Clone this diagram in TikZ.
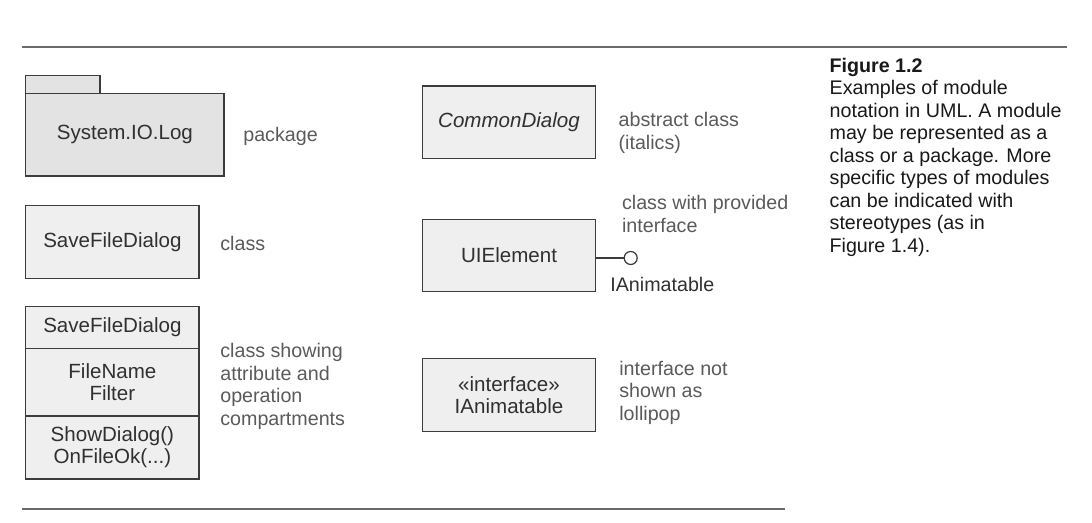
\documentclass[tikz,border=0pt]{standalone}
\usepackage{fontspec}
\setmainfont{Liberation Sans}
\usetikzlibrary{positioning}
\definecolor{boxfill}{HTML}{EFEFEF}
\definecolor{pkgfill}{HTML}{E3E3E3}
\definecolor{boxline}{HTML}{3C3C3C}
\definecolor{boxtext}{HTML}{303030}
\definecolor{notegray}{HTML}{5A5A5A}
\definecolor{rulegray}{HTML}{6A6A6A}

\begin{document}
\begin{tikzpicture}[x=0.02cm,y=-0.02cm,
	umlbox/.style={draw=boxline,fill=boxfill,line width=0.7pt,minimum width=3.466cm,minimum height=1.45cm,inner sep=0pt,outer sep=0pt,text=boxtext,align=center,font=\fontsize{11.7}{12.5}\selectfont},
	note/.style={anchor=west,align=left,inner sep=0pt,text=notegray,font=\fontsize{11.2}{12.8}\selectfont},
	rulerline/.style={draw=rulegray,line width=1.1pt}]
	\useasboundingbox (0,0) rectangle (1092,523);
	\coordinate (T1) at (22,46.7);
	\coordinate (T2) at (1067,46.7);
	\coordinate (B1) at (22,509);
	\coordinate (B2) at (785,509);
	\draw[rulerline] (T1)--(T2);
	\draw[rulerline] (B1)--(B2);
		% left column
		\node[umlbox,fill=pkgfill,minimum width=3.966cm,minimum height=1.654cm] (pkg) at (124.9,134.7) {System.IO.Log};
		\node[umlbox,fill=pkgfill,minimum width=1.486cm,minimum height=0.352cm,anchor=south west] (tab) at (pkg.north west) {};
		\node[note] (pkgnote) at (243,136) {package};
		\node[umlbox] (cls) at (112.4,242) {SaveFileDialog};
		\node[note] (clsnote) at (220,243) {class};
		\node[umlbox,minimum height=0.832cm] (name) at (112.4,327.5) {SaveFileDialog};
		\node[umlbox,minimum height=1.354cm,below=0pt of name] (attr) {FileName\\Filter};
		\node[umlbox,minimum height=1.26cm,below=0pt of attr] (ops) {ShowDialog()\\OnFileOk(...)};
		\node[note] (opsnote) at (220,386.5) {class showing\\attribute and\\operation\\compartments};
		% middle column
		\node[umlbox] (abs) at (509,122.2) {\itshape CommonDialog};
		\node[note] (absnote) at (618.3,133) {abstract class\\(italics)};
		\node[umlbox] (ui) at (509,255.5) {UIElement};
		\node[note] (uinote) at (621.7,214) {class with provided\\interface};
		\node[draw=boxline,fill=white,line width=0.7pt,circle,minimum size=0.26cm,inner sep=0pt] (lolli) at (630.7,258) {};
		\draw[boxline,line width=0.7pt] (lolli.west -| ui.east)--(lolli.west);
		\node[note,text=boxtext] (iname) at (610,284) {IAnimatable};
		\node[umlbox] (iface) at (509,395) {«interface»\\IAnimatable};
		\node[note] (ifacenote) at (619,392.5) {interface not\\shown as\\lollipop};
		% caption
		\node[note,text=black!90] (caption) at (829.3,157) {\textbf{Figure 1.2}\\Examples of module\\notation in UML. A module\\may be represented as a\\class or a package. More\\specific types of modules\\can be indicated with\\stereotypes (as in\\Figure 1.4).};
\end{tikzpicture}
\end{document}
